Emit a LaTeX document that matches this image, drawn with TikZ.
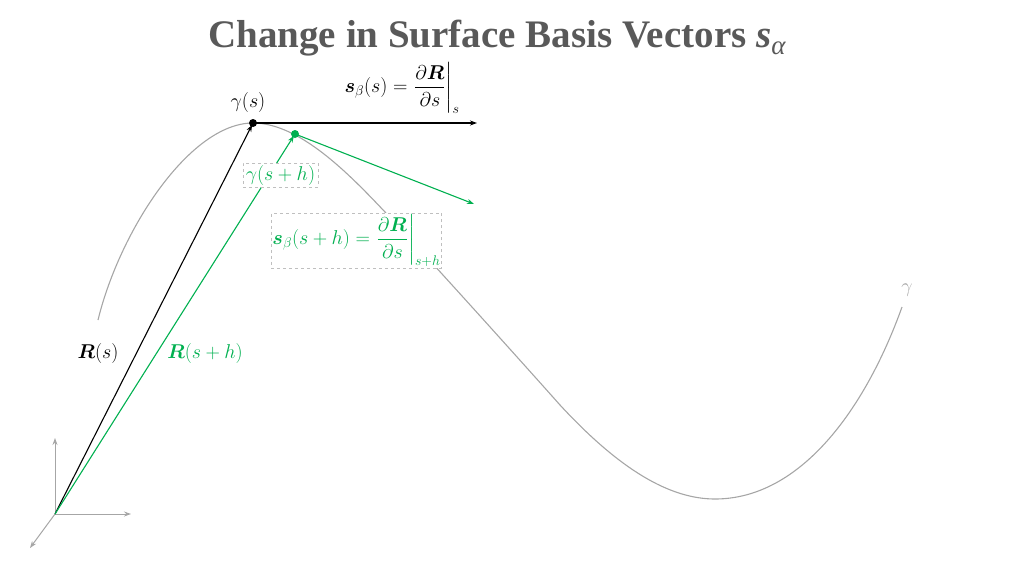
\RequirePackage{fix-cm}
\documentclass[tikz,border=0pt]{standalone}
\usepackage{amsmath,bm}
\usepackage{fontspec}
\setmainfont{Liberation Serif}
\usetikzlibrary{arrows.meta}
\definecolor{grn}{RGB}{0,176,80}
\definecolor{curvegray}{RGB}{166,166,166}
\definecolor{titlegray}{RGB}{89,89,89}
\definecolor{boxgray}{RGB}{191,191,191}
\tikzset{
  lbl/.style={font=\fontsize{20}{24}\selectfont, inner sep=2pt},
  dashbox/.style={draw=boxgray, dashed, fill=white, inner sep=1pt, line width=0.6pt},
  vec/.style={line width=1.1pt, -{Stealth[length=7pt,width=5pt]}},
  axis/.style={draw=curvegray, line width=1pt, -{Stealth[length=7pt,width=5pt]}},
  dotnode/.style={circle, inner sep=0pt, minimum size=8pt},
}
\begin{document}
\begin{tikzpicture}[x=1pt,y=-1pt]
\useasboundingbox (0,0) rectangle (1024,576);
% title
\node[anchor=base, font=\fontsize{39}{43}\selectfont\bfseries, text=titlegray, inner sep=0pt] (title) at (497,47)
  {Change in Surface Basis Vectors \textit{s}\raisebox{-0.2em}{\fontsize{27}{30}\selectfont\mdseries\itshape α}};
% coordinates
\coordinate (O) at (55,514);
\coordinate (P) at (253,123);
\coordinate (Q) at (295,134);
\coordinate (T1) at (477,123);
\coordinate (T2) at (474,204);
\coordinate (AxU) at (55,438);
\coordinate (AxR) at (131,514);
\coordinate (AxD) at (30,548);
% curve
\draw[curvegray, line width=1.1pt]
  (98,320) .. controls (120,230) and (190,123) .. (253,123)
  .. controls (300,123) and (350,175) .. (385,212)
  .. controls (420,249) and (520,360) .. (560,405)
  .. controls (620,470) and (670,499) .. (715,499)
  .. controls (800,499) and (865,410) .. (902,307);
% axes
\draw[axis] (O) -- (AxU);
\draw[axis] (O) -- (AxR);
\draw[axis] (O) -- (AxD);
% vectors
\draw[vec, black, shorten >=2pt] (O) -- (P);
\draw[vec, grn, shorten >=2pt] (O) -- (Q);
\draw[vec, black] (P) -- (T1);
\draw[vec, grn] (Q) -- (T2);
% labels
\node[lbl] (gs) at (248,102) {$\gamma(s)$};
\node[lbl] (sbs) at (402,88) {$\bm{s}_{\beta}(s)=\left.\dfrac{\partial\bm{R}}{\partial s}\right|_{s}$};
\node[lbl, dashbox, text=grn, minimum width=75pt, minimum height=24pt] (gsh) at (280.5,175) {$\gamma(s+h)$};
\node[lbl, dashbox, text=grn, minimum width=167pt, minimum height=55pt] (sbsh) at (356.5,240.5)
  {$\bm{s}_{\beta}(s+h)=\left.\dfrac{\partial\bm{R}}{\partial s}\right|_{s+h}$};
\node[lbl] (Rs) at (98,353) {$\bm{R}(s)$};
\node[lbl, text=grn] (Rsh) at (205,353) {$\bm{R}(s+h)$};
\node[lbl, text=curvegray] (gam) at (907,290) {$\gamma$};
% dots
\node[dotnode, fill=black] (Pd) at (P) {};
\node[dotnode, fill=grn] (Qd) at (Q) {};
\end{tikzpicture}
\end{document}
